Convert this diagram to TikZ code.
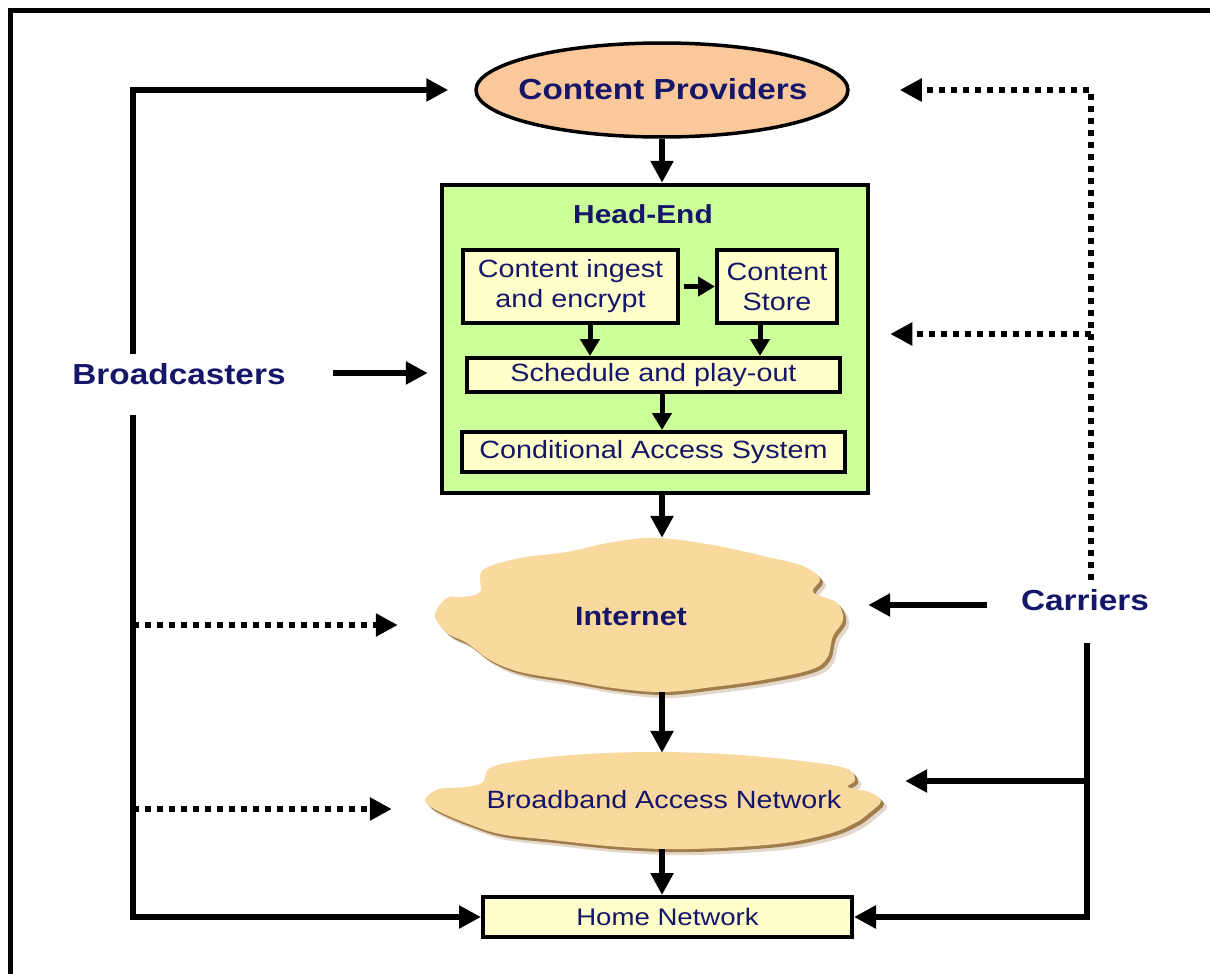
\documentclass[tikz,border=0pt]{standalone}
\usepackage{fontspec}
\setmainfont{Liberation Sans}[FakeStretch=1.15]
\usetikzlibrary{arrows.meta,shapes.geometric}
\definecolor{navy}{RGB}{22,22,105}
\definecolor{peach}{RGB}{250,200,155}
\definecolor{lgreen}{RGB}{204,255,153}
\definecolor{lyellow}{RGB}{255,255,204}
\definecolor{cloudc}{RGB}{249,217,158}
\definecolor{cloudsh}{RGB}{160,125,75}
\newcommand{\inetcloud}[1]{\path[#1] plot[smooth cycle, tension=0.6] coordinates {(435,615) (447,598) (463,597) (480,592) (483,570) (520,558) (567,552) (613,542) (657,538) (713,545) (763,556) (803,566) (820,579) (813,592) (837,603) (843,620) (833,636) (827,658) (810,670) (763,680) (713,687) (663,692) (613,688) (567,680) (520,672) (490,660) (467,643) (447,633)};}
\newcommand{\bbcloud}[1]{\path[#1] plot[smooth cycle, tension=0.6] coordinates {(426,798) (439,789) (466,787) (483,782) (490,768) (525,760) (587,754) (655,752) (724,754) (793,760) (845,768) (855,780) (848,787) (869,792) (881,801) (869,813) (855,823) (828,834) (776,844) (690,849) (621,847) (552,840) (500,834) (466,823) (442,813) (428,805)};}
\begin{document}
\begin{tikzpicture}[x=1pt,y=-1pt,
  conn/.style={line width=6pt},
  arr/.style={line width=6pt,-{Triangle[length=22pt,width=22pt]}},
  darr/.style={line width=6pt,dash pattern=on 6pt off 6pt,-{Triangle[length=22pt,width=22pt]}},
  iarr/.style={line width=5pt,-{Triangle[length=17pt,width=19pt]}},
  lbl/.style={text=navy,font=\fontsize{29}{34}\selectfont\bfseries,inner sep=0pt},
  ibox/.style={draw=black,line width=4pt,fill=lyellow,text=navy,inner sep=0pt,font=\fontsize{25}{30}\selectfont,align=center},
  ghost/.style={inner sep=0pt,draw=none}]
\useasboundingbox (0,0) rectangle (1210,974);
\fill[white] (0,0) rectangle (1210,974);
% outer frame (cropped)
\draw[line width=5pt] (10.5,980) -- (10.5,10.5) -- (1220,10.5);

% top ellipse
\node[ellipse,draw,line width=3.5pt,fill=peach,minimum width=372pt,minimum height=94pt,inner sep=0pt] (cp) at (662,90) {};
\node[lbl] (cpl) at (663,89) {Content Providers};

% head-end
\node[draw,line width=4.5pt,fill=lgreen,minimum width=426pt,minimum height=308pt] (he) at (655,339) {};
\node[lbl,font=\fontsize{26}{30}\selectfont\bfseries] (het) at (643,214) {Head-End};
\node[ibox,minimum width=215pt,minimum height=73pt] (ci) at (570.5,286.5) {Content ingest\\and encrypt};
\node[ibox,minimum width=120pt,minimum height=73pt] (cs) at (777,286.5) {Content\\Store};
\node[ibox,minimum width=373pt,minimum height=34pt] (sp) at (653.5,375) {Schedule and play-out};
\node[ibox,minimum width=383pt,minimum height=40pt] (cas) at (653.5,452) {Conditional Access System};

\draw[iarr] ([xshift=4pt]ci.east) -- (cs.west);
\draw[iarr] ([xshift=19.5pt]ci.south) -- ([xshift=19.5pt]ci.south |- sp.north);
\draw[iarr] ([xshift=-17pt]cs.south) -- ([xshift=-17pt]cs.south |- sp.north);
\draw[iarr] (cp.south |- sp.south) -- (cp.south |- cas.north);

% clouds
\inetcloud{fill=cloudsh,opacity=0.3,shift={(6,6)}}
\inetcloud{fill=cloudsh,shift={(3,3)}}
\inetcloud{fill=cloudc}
\node[ghost,minimum width=408pt,minimum height=154pt] (inet) at (639,615) {};
\node[lbl,font=\fontsize{26.5}{30}\selectfont\bfseries] (inetl) at (631,617) {Internet};

\bbcloud{fill=cloudsh,opacity=0.3,shift={(6,6)}}
\bbcloud{fill=cloudsh,shift={(3,3)}}
\bbcloud{fill=cloudc}
\node[ghost,minimum width=455pt,minimum height=96pt] (bb) at (653.5,801) {};
\node[text=navy,inner sep=0pt,font=\fontsize{25}{30}\selectfont] (bbl) at (664,800) {Broadband Access Network};

% home network
\node[ibox,minimum width=369pt,minimum height=40pt,font=\fontsize{24}{28}\selectfont] (hn) at (667.5,917) {Home Network};

% main vertical chain
\draw[arr] (cp.south) -- (cp.south |- he.north);
\draw[arr] (cp.south |- he.south) -- (cp.south |- inet.north);
\draw[arr] (cp.south |- inet.south) -- (cp.south |- bb.north);
\draw[arr] (cp.south |- bb.south) -- (cp.south |- hn.north);

% Broadcasters
\node[lbl] (bc) at (179,374) {Broadcasters};
\coordinate (bcup) at (133,354);
\coordinate (bcdn) at (133,415);
\coordinate (bcr) at (333,373);
\coordinate (d1) at (133,625);
\coordinate (d2) at (133,809);
\draw[arr] (bcup) |- ([xshift=-26pt]cp.west);
\draw[arr] (bcr) -- ([xshift=-12pt]he.west |- bcr);
\draw[arr] (bcdn) |- (hn.west);
\draw[darr] (d1) -- ([xshift=-37pt]inet.west |- d1);
\draw[darr] (d2) -- ([xshift=-34pt]bb.west |- d2);

% Carriers
\node[lbl] (car) at (1085,600) {Carriers};
\coordinate (cup) at (1091,580);
\coordinate (cmid) at (1091,334);
\coordinate (cl) at (987,605);
\coordinate (cdn) at (1087,643);
\coordinate (cbb) at (1087,781);
\draw[darr] (cup) |- ([xshift=50pt]cp.east);
\draw[darr] (cmid) -- ([xshift=20pt]he.east |- cmid);
\draw[arr] (cl) -- ([xshift=25pt]inet.east |- cl);
\draw[arr] (cdn) |- (hn.east);
\draw[arr] (cbb) -- ([xshift=24pt]bb.east |- cbb);
\end{tikzpicture}
\end{document}
